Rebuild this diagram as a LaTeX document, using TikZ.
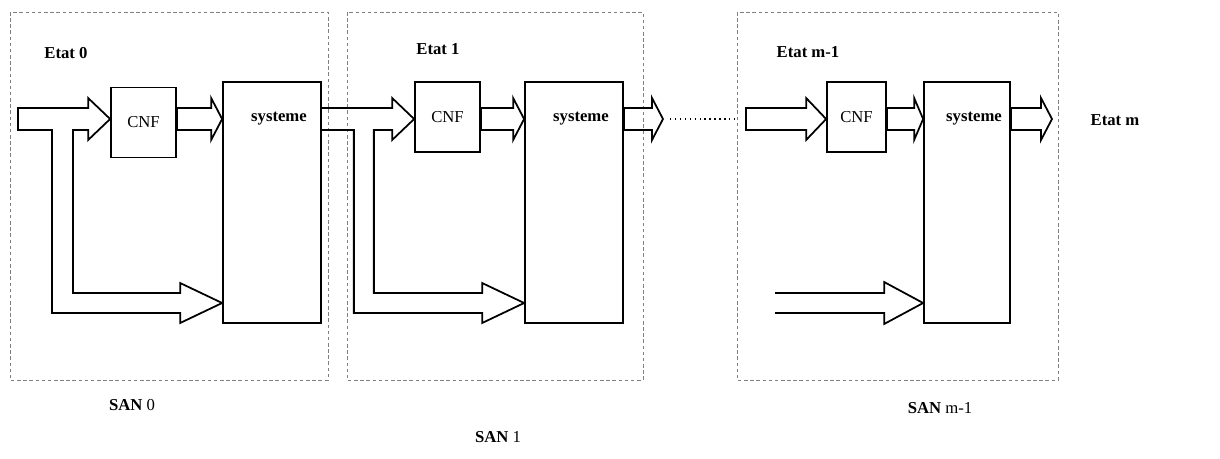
\documentclass[tikz,border=0pt]{standalone}
\usepackage{fontspec}
\setmainfont{Liberation Serif}
\usetikzlibrary{calc}
\newcommand{\fatarrow}[3]{%
  \draw[fat] ($(#1)+(0,-11)$) -- ($(#2)+(-#3,-11)$) -- ($(#2)+(-#3,-21)$) -- (#2)
    -- ($(#2)+(-#3,21)$) -- ($(#2)+(-#3,11)$) -- ($(#1)+(0,11)$) -- cycle;}
\begin{document}
\begin{tikzpicture}[x=0.02cm, y=-0.02cm,
  fat/.style={draw, line width=1pt, line join=miter},
  lbl/.style={font=\fontsize{9.5}{10}\selectfont\bfseries, inner sep=1pt},
  cnfbox/.style={draw, line width=1pt, minimum width=1.3cm, minimum height=1.4cm, inner sep=0pt, font=\fontsize{9.5}{10}\selectfont},
  sysbox/.style={draw, line width=1pt, minimum width=1.96cm, minimum height=4.82cm, inner sep=0pt},
  stagebox/.style={draw=gray, line width=0.4pt, dash pattern=on 2pt off 1.5pt}]
\useasboundingbox (0,0) rectangle (1220,458);
\draw[stagebox] (10,12) rectangle (328,380);
\draw[stagebox] (347,12) rectangle (643,380);
\draw[stagebox] (737,12) rectangle (1058,380);
\node[cnfbox] (cnf0) at (143.5,122.5) {CNF};
\node[sysbox] (sys0) at (272,202.5) {};
\node[cnfbox] (cnf1) at (447.5,117) {CNF};
\node[sysbox] (sys1) at (574,202.5) {};
\node[cnfbox, minimum width=1.18cm] (cnfm) at (856.5,117) {CNF};
\node[sysbox, minimum width=1.72cm] (sysm) at (967,202.5) {};
\coordinate (in0) at (18,119);
\coordinate (fb) at (0,303);
\coordinate (out1) at (663,119);
\coordinate (inm) at (746,119);
\coordinate (fbm) at (775,303);
\coordinate (outm) at (1052,119);
\draw[fat] ($(in0)+(0,-11)$) -- ($(cnf0.west|-in0)+(-22,-11)$) -- ++(0,-10) -- (cnf0.west|-in0)
  -- ++(-22,21) -- ++(0,-10) -- ($(in0)+(55,11)$) |- ($(sys0.west|-fb)+(-42,-10)$)
  -- ++(0,-10) -- (sys0.west|-fb) -- ++(-42,20) -- ++(0,-10) -| ($(in0)+(34,11)$)
  -- ($(in0)+(0,11)$) -- cycle;
\fatarrow{cnf0.east|-in0}{sys0.west|-in0}{11}
\draw[fat] ($(sys0.east|-in0)+(0,-11)$) -- ($(cnf1.west|-in0)+(-22,-11)$) -- ++(0,-10) -- (cnf1.west|-in0)
  -- ++(-22,21) -- ++(0,-10) -- ($(sys0.east|-in0)+(52,11)$) |- ($(sys1.west|-fb)+(-42,-10)$)
  -- ++(0,-10) -- (sys1.west|-fb) -- ++(-42,20) -- ++(0,-10) -| ($(sys0.east|-in0)+(32,11)$)
  -- ($(sys0.east|-in0)+(0,11)$);
\fatarrow{cnf1.east|-in0}{sys1.west|-in0}{11}
\fatarrow{sys1.east|-in0}{out1}{11}
\draw[dotted, line width=0.8pt] ($(out1)+(7,0)$) -- ($(inm)+(-8,0)$);
\fatarrow{inm}{cnfm.west|-inm}{20}
\fatarrow{cnfm.east|-in0}{sysm.west|-in0}{9}
\draw[fat] ($(fbm)+(0,-10)$) -- ($(sysm.west|-fb)+(-39,-10)$) -- ++(0,-11) -- (sysm.west|-fb)
  -- ++(-39,21) -- ++(0,-11) -- ($(fbm)+(0,10)$);
\fatarrow{sysm.east|-in0}{outm}{11}
\node[lbl] (etat0) at (66,53) {Etat 0};
\node[lbl] (etat1) at (438,49) {Etat 1};
\node[lbl] (etatm1) at (808,52) {Etat m-1};
\node[lbl] (etatm) at (1115,120) {Etat m};
\node[lbl] (sys0lbl) at ($(sys0.north)+(7,37)$) {systeme};
\node[lbl] (sys1lbl) at ($(sys1.north)+(7,37)$) {systeme};
\node[lbl] (sysmlbl) at ($(sysm.north)+(7,37)$) {systeme};
\node[lbl] (san0) at (132,405) {SAN {\mdseries 0}};
\node[lbl] (san1) at (498,437) {SAN {\mdseries 1}};
\node[lbl] (sanm1) at (940,408) {SAN {\mdseries m-1}};
\end{tikzpicture}
\end{document}
